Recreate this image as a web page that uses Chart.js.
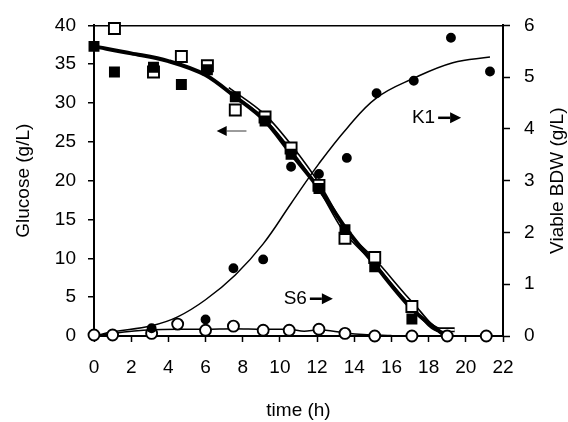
<!DOCTYPE html>
<html lang="en">

<head>
  <meta charset="UTF-8">
  <title>Glucose and viable BDW</title>
  <script src="https://cdn.jsdelivr.net/npm/chart.js"></script>
  <style>
    body {
      margin: 0;
      background: #fff;
    }

    .chart-container {
      position: relative;
      width: 568px;
      height: 422px;
    }
  </style>
</head>

<body>
  <div class="chart-container"><canvas id="g"></canvas></div>

  <script>
    // tick labels
    const xTicks = [0, 2, 4, 6, 8, 10, 12, 14, 16, 18, 20, 22];
    const yTicks = [0, 5, 10, 15, 20, 25, 30, 35, 40];
    const y1Ticks = [0, 1, 2, 3, 4, 5, 6];

    // glucose, K1 (filled squares)
    const k1GluT = [0, 1.1, 3.2, 4.7, 6.1, 7.6, 9.2, 10.6, 12.1, 13.5, 15.1, 17.1];
    const k1Glu = [37.3, 34.0, 34.6, 32.4, 34.3, 30.8, 27.7, 23.4, 19.0, 13.7, 8.9, 2.2];
    // glucose, S6 (open squares)
    const s6GluT = [1.1, 3.2, 4.7, 6.1, 7.6, 9.2, 10.6, 12.1, 13.5, 15.1, 17.1];
    const s6Glu = [39.6, 34.0, 36.0, 34.8, 29.1, 28.2, 24.2, 19.4, 12.6, 10.1, 3.8];
    // viable BDW, K1 (filled circles)
    const k1BdwT = [3.1, 6.0, 7.5, 9.1, 10.6, 12.1, 13.6, 15.2, 17.2, 19.2, 21.3];
    const k1Bdw = [0.15, 0.32, 1.31, 1.48, 3.27, 3.13, 3.44, 4.69, 4.93, 5.76, 5.11];
    // viable BDW, S6 (open circles)
    const s6BdwT = [0, 1.0, 3.1, 4.5, 6.0, 7.5, 9.1, 10.5, 12.1, 13.5, 15.1, 17.1, 19.0, 21.1];
    const s6Bdw = [0.02, 0.02, 0.05, 0.23, 0.11, 0.19, 0.11, 0.11, 0.13, 0.05, 0, 0, 0, 0];

    // fitted curves
    const k1GluFitT = [0, 2, 4, 6, 7.6, 9.2, 10.6, 12.1, 13.5, 15.1, 17.1, 18.9];
    const k1GluFit = [37.3, 36.4, 35.4, 33.6, 30.8, 27.7, 23.5, 19.0, 14.0, 9.2, 3.5, 0];
    const s6GluFitT = [7.2, 9.2, 10.6, 12.1, 13.5, 15.1, 17.1, 18.6, 19.4];
    const s6GluFit = [31.8, 28.2, 24.3, 19.3, 13.6, 9.6, 4.1, 0.8, 0.8];
    const k1BdwFitT = [0, 1, 3.1, 4.5, 6, 7.6, 9.1, 10.6, 12.1, 13.6, 15.2, 17.2, 19.3, 21.3];
    const k1BdwFit = [0, 0.08, 0.2, 0.37, 0.7, 1.18, 1.78, 2.56, 3.33, 4.01, 4.6, 4.98, 5.28, 5.39];
    const s6BdwFitT = [0, 1, 3.1, 4.5, 6, 7.5, 9.1, 10.5, 11.3, 12.1, 13.5, 14.5, 16];
    const s6BdwFit = [0, 0.05, 0.12, 0.13, 0.13, 0.14, 0.13, 0.13, 0.09, 0.12, 0.06, 0.03, 0.01];

    // labels in the plot: [text, time, glucose]
    const notes = [['K1', 17.1, 28.1], ['S6', 10.2, 4.8]];

    const FONT = '"Liberation Sans", Arial, sans-serif';

    function xy(t, v) {
      return t.map((x, i) => ({ x: x, y: v[i] }));
    }

    function pts(t, v, axis, style, r, fill, ord) {
      return {
        type: 'scatter', data: xy(t, v), yAxisID: axis,
        pointStyle: style, pointRadius: r, pointBackgroundColor: fill,
        pointBorderColor: '#000', pointBorderWidth: 1.9, clip: false, order: ord
      };
    }

    function fit(t, v, axis, color, w, ord, smooth) {
      const d = {
        type: 'line', data: xy(t, v), yAxisID: axis, borderColor: color,
        borderWidth: w, pointRadius: 0, clip: false, order: ord
      };
      if (smooth) d.tension = 0.4;
      else d.cubicInterpolationMode = 'monotone';
      return d;
    }

    function arrow(ctx, x0, y, x1, head, color, lw) {
      const d = x1 > x0 ? 1 : -1;
      ctx.strokeStyle = color;
      ctx.lineWidth = lw;
      ctx.beginPath();
      ctx.moveTo(x0, y);
      ctx.lineTo(x1 - d * head, y);
      ctx.stroke();
      ctx.fillStyle = '#000';
      ctx.beginPath();
      ctx.moveTo(x1, y);
      ctx.lineTo(x1 - d * head, y - head * 0.5);
      ctx.lineTo(x1 - d * head, y + head * 0.5);
      ctx.closePath();
      ctx.fill();
    }

    const marks = {
      id: 'marks',
      afterDraw(chart) {
        const ctx = chart.ctx;
        const sx = chart.scales.x, sy = chart.scales.y, a = chart.chartArea;
        ctx.save();
        ctx.font = '19px ' + FONT;
        ctx.textBaseline = 'middle';
        notes.forEach(n => {
          const x = sx.getPixelForValue(n[1]), y = sy.getPixelForValue(n[2]);
          ctx.fillStyle = '#000';
          ctx.fillText(n[0], x, y);
          const w = ctx.measureText(n[0]).width;
          arrow(ctx, x + w + 3, y, x + w + 26, 11, '#000', 2.5);
        });
        // glucose axis pointer
        arrow(ctx, sx.getPixelForValue(8.2), sy.getPixelForValue(26.4),
          sx.getPixelForValue(6.6), 10, '#666', 1.3);
        // right axis title, reading bottom to top
        ctx.translate(558, (a.top + a.bottom) / 2);
        ctx.rotate(-Math.PI / 2);
        ctx.textAlign = 'center';
        ctx.fillStyle = '#000';
        ctx.fillText('Viable BDW (g/L)', 0, 0);
        ctx.restore();
      }
    };

    Chart.defaults.font.family = FONT;
    Chart.defaults.color = '#000';

    new Chart(document.getElementById('g'), {
      data: {
        datasets: [
          pts(k1GluT, k1Glu, 'y', 'rect', 6.4, '#000', 1),
          pts(s6GluT, s6Glu, 'y', 'rect', 7.8, '#fff', 2),
          pts(k1BdwT, k1Bdw, 'y1', 'circle', 4, '#000', 1),
          pts(s6BdwT, s6Bdw, 'y1', 'circle', 5.5, '#fff', 2),
          fit(k1GluFitT, k1GluFit, 'y', '#000', 4, 3, false),
          fit(s6GluFitT, s6GluFit, 'y', '#fff', 1.8, 4, false),
          fit(s6GluFitT, s6GluFit, 'y', '#000', 5, 5, false),
          fit(k1BdwFitT, k1BdwFit, 'y1', '#000', 1.5, 3, true),
          fit(s6BdwFitT, s6BdwFit, 'y1', '#000', 1.5, 3, false)
        ]
      },
      options: {
        responsive: true,
        maintainAspectRatio: false,
        animation: false,
        layout: { padding: { top: 21, left: 0, right: 0, bottom: 0 } },
        plugins: { legend: { display: false }, tooltip: { enabled: false } },
        scales: {
          x: {
            type: 'linear', min: 0, max: 22,
            afterBuildTicks: s => { s.ticks = xTicks.map(v => ({ value: v })); },
            afterFit: s => { s.height = 86; },
            ticks: { font: { size: 19 }, padding: 14, maxRotation: 0 },
            grid: { drawOnChartArea: false, tickLength: 6, tickColor: '#000', tickWidth: 1.5 },
            border: { color: '#000', width: 2 },
            title: { display: true, text: 'time (h)', font: { size: 19 }, padding: 0 }
          },
          y: {
            position: 'left', min: 0, max: 40,
            afterBuildTicks: s => { s.ticks = yTicks.map(v => ({ value: v })); },
            afterFit: s => { s.width = 94; },
            ticks: { font: { size: 19 }, padding: 12 },
            grid: {
              color: c => c.tick && c.tick.value === 40 ? '#000' : 'rgba(0,0,0,0)',
              lineWidth: 1.5, tickLength: 6, tickColor: '#000', tickWidth: 1.5
            },
            border: { color: '#000', width: 2 },
            title: { display: true, text: 'Glucose (g/L)', font: { size: 19 }, padding: { top: 12, bottom: 0 } }
          },
          y1: {
            position: 'right', min: 0, max: 6,
            afterBuildTicks: s => { s.ticks = y1Ticks.map(v => ({ value: v })); },
            afterFit: s => { s.width = 65; },
            ticks: { font: { size: 19 }, padding: 14 },
            grid: { drawOnChartArea: false, tickLength: 7, tickColor: '#000', tickWidth: 1.5 },
            border: { color: '#000', width: 2 }
          }
        }
      },
      plugins: [marks]
    });
  </script>
</body>

</html>
